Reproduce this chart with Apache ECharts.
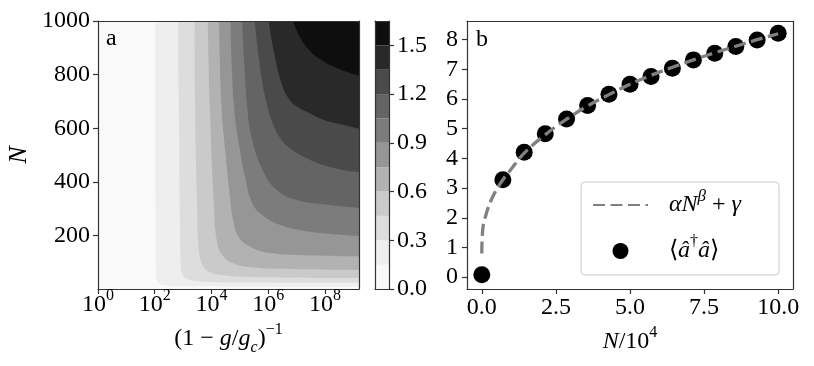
<!DOCTYPE html>
<html>
<head>
<meta charset="utf-8">
<script src="https://cdn.jsdelivr.net/npm/echarts@6/dist/echarts.min.js"></script>
<style>
  html, body { margin: 0; padding: 0; background: #fff; }
  #chart { width: 814px; height: 366px; }
</style>
</head>
<body>
<div id="chart"></div>
<script>
// contour levels of panel a (colorbar) and their fill colours (Greys)
const levels = [0, 0.15, 0.3, 0.45, 0.6, 0.75, 0.9, 1.05, 1.2, 1.35, 1.5, 1.65];
const bandColors = ['#f9f9f9', '#eeeeee', '#dddddd', '#cacaca', '#b2b2b2', '#969696',
                    '#7c7c7c', '#646464', '#4a4a4a', '#292929', '#0e0e0e'];
const colorbarTicks = [0, 0.3, 0.6, 0.9, 1.2, 1.5];

// contour lines: [log10 (1-g/gc)^-1, N]
const contour015 = [[2.02, 1000], [2.03, 300], [2.04, 70], [2.08, 35], [2.2, 20], [2.5, 14], [3.2, 11], [5, 9.5], [9.2, 9]];
const contour030 = [[2.82, 1000], [2.86, 600], [2.89, 250], [2.92, 90], [3.0, 52], [3.2, 36], [3.7, 28], [5, 25], [9.2, 24]];
const contour045 = [[3.40, 1000], [3.42, 690], [3.49, 330], [3.56, 140], [3.7, 88], [3.95, 63], [4.5, 51], [5.5, 45], [9.2, 42]];
const contour060 = [[3.87, 1000], [3.94, 690], [4.08, 330], [4.2, 175], [4.42, 122], [4.85, 93], [5.6, 80], [7, 75], [9.2, 73]];
const contour075 = [[4.27, 1000], [4.35, 690], [4.5, 500], [4.67, 330], [4.76, 258], [4.96, 195], [5.38, 158], [6.1, 135], [7.2, 127], [9.2, 123]];
const contour090 = [[4.67, 1000], [4.79, 690], [5.0, 520], [5.2, 410], [5.4, 330], [5.7, 285], [6.3, 245], [7.14, 220], [8.3, 205], [9.2, 198]];
const contour105 = [[5.08, 1000], [5.26, 680], [5.43, 560], [5.8, 445], [6.3, 370], [7.0, 333], [8.1, 315], [9.2, 303]];
const contour120 = [[5.52, 1000], [5.75, 800], [5.96, 686], [6.14, 624], [6.43, 562], [6.79, 524], [7.38, 487], [7.96, 462], [8.67, 444], [9.2, 437]];
const contour135 = [[6.02, 1000], [6.2, 886], [6.49, 761], [6.8, 700], [7.1, 676], [7.45, 657], [7.85, 636], [8.44, 618], [9.2, 599]];
const contour150 = [[6.88, 1000], [7.08, 948], [7.49, 886], [7.96, 849], [8.44, 824], [8.91, 805], [9.2, 796]];
const contours = [contour015, contour030, contour045, contour060, contour075,
                  contour090, contour105, contour120, contour135, contour150];
const logTicks = [0, 2, 4, 6, 8];
const nTicks = [200, 400, 600, 800, 1000];

// panel b
const nOver1e4 = [0, 0.71, 1.43, 2.14, 2.86, 3.57, 4.29, 5.0, 5.71, 6.43, 7.14, 7.86, 8.57, 9.29, 10];
const occupation = [0.08, 3.28, 4.21, 4.83, 5.33, 5.78, 6.16, 6.5, 6.76, 7.04, 7.32, 7.54, 7.77, 7.99, 8.22];
const fitX = [0, 0.03, 0.17, 0.34, 0.62, 1.0, 1.43, 2.14, 2.86, 3.57, 4.29, 5.0, 5.71, 6.43, 7.14, 7.86, 8.57, 9.29, 10];
const fitY = [0.8, 1.6, 2.2, 2.65, 3.15, 3.65, 4.18, 4.8, 5.32, 5.77, 6.15, 6.5, 6.8, 7.07, 7.32, 7.56, 7.78, 8.0, 8.2];
const bXTicks = [0, 2.5, 5, 7.5, 10];
const bYTicks = [0, 1, 2, 3, 4, 5, 6, 7, 8];

const FONT = 'Liberation Serif';
const AXIS = '#333';
const rich = {
  r: { fontFamily: FONT, fontSize: 24, color: '#000', lineHeight: 34 },
  i: { fontFamily: FONT, fontSize: 24, fontStyle: 'italic', color: '#000', lineHeight: 34 },
  sup: { fontFamily: FONT, fontSize: 16, color: '#000', verticalAlign: 'top', lineHeight: 18 },
  supi: { fontFamily: FONT, fontSize: 17, fontStyle: 'italic', color: '#000', verticalAlign: 'top', lineHeight: 18 },
  sub: { fontFamily: FONT, fontSize: 16, fontStyle: 'italic', color: '#000', verticalAlign: 'bottom', lineHeight: 18 }
};

const chart = echarts.init(document.getElementById('chart'), null, { renderer: 'canvas' });

function axisLine() {
  return { show: true, onZero: false, lineStyle: { color: AXIS, width: 1.2 } };
}

function frameAxis(gridIndex, position) {
  return {
    type: 'value', gridIndex, position, min: 0, max: 1, z: 10,
    axisLine: axisLine(),
    axisTick: { show: false }, axisLabel: { show: false }, splitLine: { show: false }
  };
}

function tickStyle(values) {
  return { show: true, inside: false, length: 5, customValues: values, lineStyle: { color: AXIS, width: 1.2 } };
}

const contourSeries = contours.map((pts, k) => ({
  type: 'line', xAxisIndex: 0, yAxisIndex: 0, data: pts,
  symbol: 'none', smooth: 0.45, silent: true,
  lineStyle: { width: 0, color: bandColors[k + 1] },
  areaStyle: { color: bandColors[k + 1], opacity: 1, origin: 'end' }
}));

const colorbarSeries = bandColors.map((c, k) => ({
  type: 'bar', xAxisIndex: 2, yAxisIndex: 2, stack: 'cb', barWidth: '100%', silent: true,
  data: [levels[k + 1] - levels[k]], itemStyle: { color: c }
}));

const option = {
  animation: false,
  backgroundColor: '#fff',
  grid: [
    { left: 98, top: 21, width: 261, height: 268, show: true, backgroundColor: bandColors[0], borderWidth: 0 },
    { left: 375, top: 21, width: 14, height: 268 },
    { left: 467, top: 21, width: 326, height: 268 }
  ],
  xAxis: [
    {
      type: 'value', gridIndex: 0, min: 0, max: 9.2, z: 10,
      axisLine: axisLine(),
      axisTick: tickStyle(logTicks),
      axisLabel: { customValues: logTicks, margin: -1, formatter: v => '{r|10}{sup|' + v + '}', rich },
      splitLine: { show: false },
      name: '{r|(1 − }{i|g}{r|/}{i|g}{sub|c}{r|)}{sup|−1}', nameLocation: 'middle', nameGap: 26,
      nameTextStyle: { rich }
    },
    frameAxis(0, 'top'),
    {
      type: 'category', gridIndex: 1, data: ['cb'], z: 10,
      axisLine: axisLine(),
      axisTick: { show: false }, axisLabel: { show: false }
    },
    frameAxis(1, 'top'),
    {
      type: 'value', gridIndex: 2, min: -0.5, max: 10.5, z: 10,
      axisLine: axisLine(),
      axisTick: tickStyle(bXTicks),
      axisLabel: { customValues: bXTicks, margin: 7, fontFamily: FONT, fontSize: 24, color: '#000', formatter: v => v.toFixed(1) },
      splitLine: { show: false },
      name: '{i|N}{r|/10}{sup|4}', nameLocation: 'middle', nameGap: 22,
      nameTextStyle: { rich }
    },
    frameAxis(2, 'top')
  ],
  yAxis: [
    {
      type: 'value', gridIndex: 0, min: 1, max: 1000, z: 10,
      axisLine: axisLine(),
      axisTick: tickStyle(nTicks),
      axisLabel: { customValues: nTicks, margin: 8, fontFamily: FONT, fontSize: 24, color: '#000', formatter: v => String(v) },
      splitLine: { show: false },
      name: 'N', nameLocation: 'middle', nameGap: 66, nameRotate: 90,
      nameTextStyle: { fontFamily: FONT, fontSize: 26, fontStyle: 'italic', color: '#000' }
    },
    frameAxis(0, 'right'),
    {
      type: 'value', gridIndex: 1, position: 'right', min: 0, max: 1.65, z: 10,
      axisLine: axisLine(),
      axisTick: tickStyle(colorbarTicks),
      axisLabel: { customValues: colorbarTicks, margin: 8, fontFamily: FONT, fontSize: 24, color: '#000', formatter: v => v.toFixed(1) },
      splitLine: { show: false }
    },
    frameAxis(1, 'left'),
    {
      type: 'value', gridIndex: 2, min: -0.4, max: 8.63, z: 10,
      axisLine: axisLine(),
      axisTick: tickStyle(bYTicks),
      axisLabel: { customValues: bYTicks, margin: 9, fontFamily: FONT, fontSize: 24, color: '#000', formatter: v => String(v) },
      splitLine: { show: false }
    },
    frameAxis(2, 'right')
  ],
  legend: {
    data: [
      { name: 'fit', itemStyle: { color: 'rgba(0,0,0,0)', borderColor: 'rgba(0,0,0,0)', borderWidth: 0, opacity: 0 } },
      { name: 'mean' }
    ],
    orient: 'vertical', left: 581, top: 182,
    padding: [6, 38, 12, 11], itemGap: 17,
    itemWidth: 55, itemHeight: 16,
    backgroundColor: 'rgba(255,255,255,0.8)', borderColor: '#cccccc', borderWidth: 1, borderRadius: 4,
    textStyle: { rich, padding: [0, 0, 0, 16] },
    formatter: name => name === 'fit'
      ? '{i|αN}{supi|β}{r| + }{i|γ}'
      : '{r|⟨}{i|â}{sup|†}{i|â}{r|⟩}'
  },
  graphic: [
    { type: 'text', left: 106, top: 27, style: { text: 'a', font: '24px ' + FONT, fill: '#000' }, z: 20 },
    { type: 'text', left: 476, top: 28, style: { text: 'b', font: '24px ' + FONT, fill: '#000' }, z: 20 }
  ],
  series: [
    ...contourSeries,
    ...colorbarSeries,
    {
      name: 'mean', type: 'scatter', xAxisIndex: 4, yAxisIndex: 4, z: 3,
      data: nOver1e4.map((x, i) => [x, occupation[i]]),
      symbol: 'circle', symbolSize: 17, itemStyle: { color: '#000', opacity: 1 }
    },
    {
      name: 'fit', type: 'line', xAxisIndex: 4, yAxisIndex: 4, z: 4,
      data: fitX.map((x, i) => [x, fitY[i]]),
      symbol: 'none', smooth: 0.4,
      lineStyle: { color: '#808080', width: 3.3, type: [12, 5.5] },
      itemStyle: { color: '#808080' }
    }
  ]
};

chart.setOption(option);
</script>
</body>
</html>
